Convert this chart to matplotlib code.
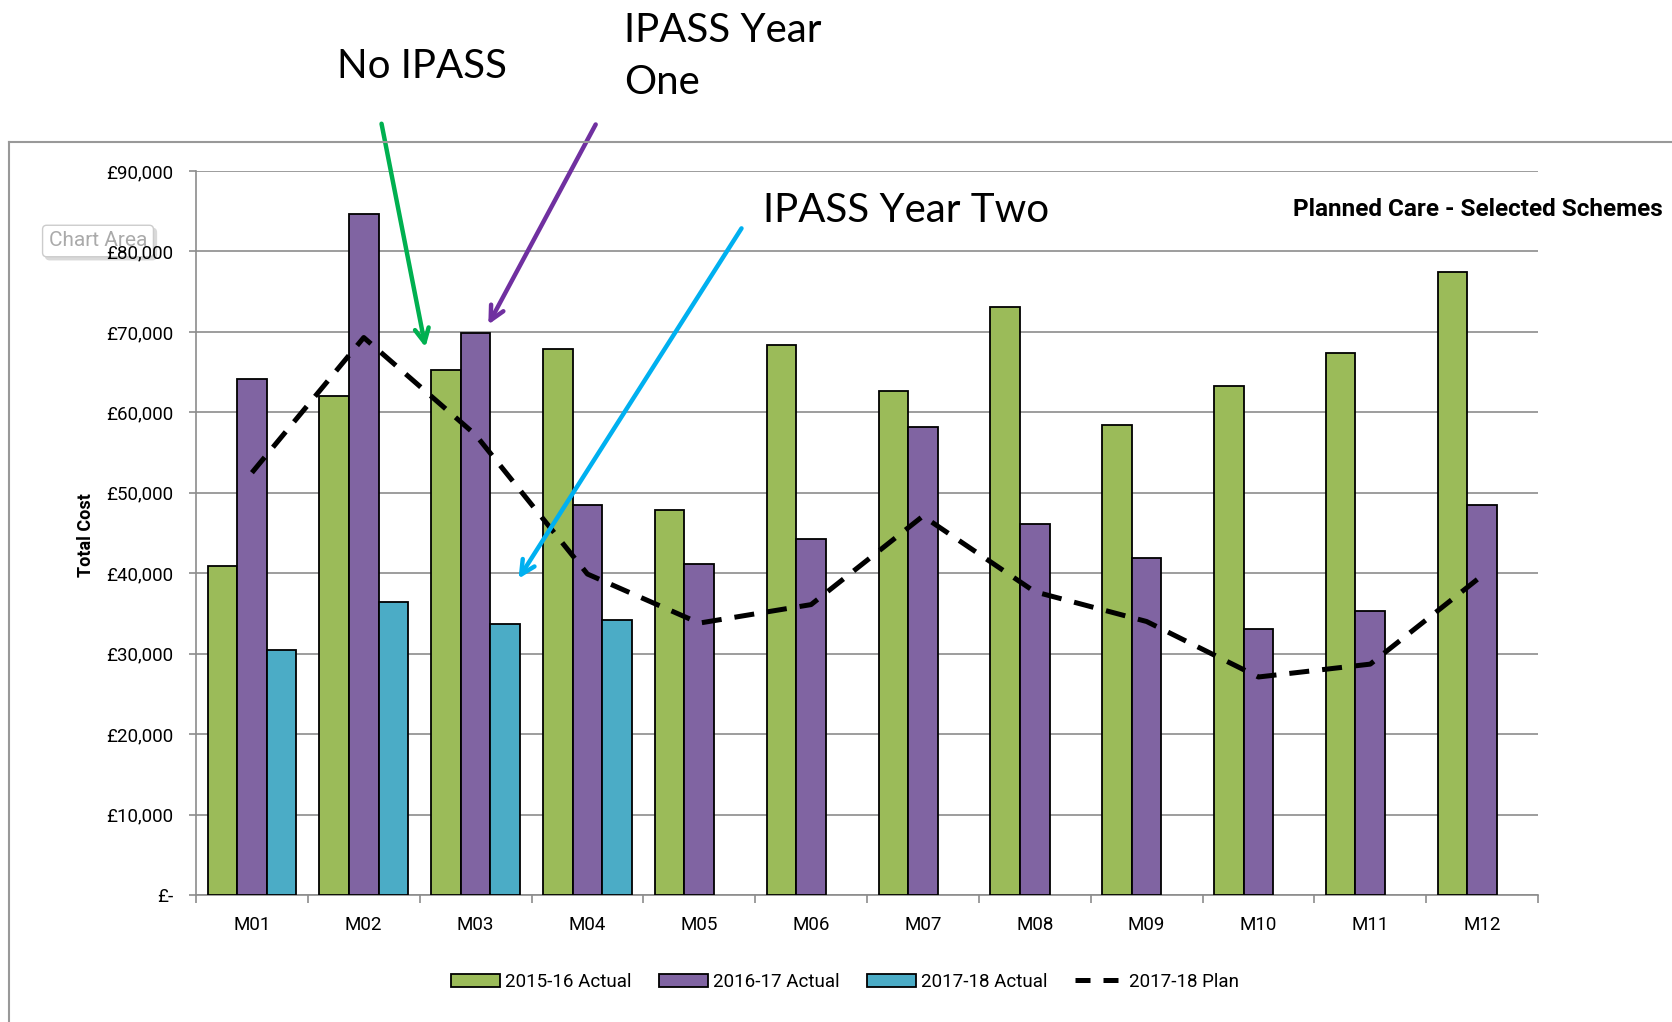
import matplotlib.pyplot as plt
import numpy as np
from matplotlib.lines import Line2D
from matplotlib.patches import Patch

# data
months = ["M01", "M02", "M03", "M04", "M05", "M06", "M07", "M08", "M09", "M10", "M11", "M12"]
actual_1516 = [40900, 62000, 65300, 67900, 47900, 68400, 62700, 73100, 58400, 63300, 67400, 77400]
actual_1617 = [64100, 84600, 69800, 48500, 41200, 44200, 58200, 46100, 41900, 33100, 35300, 48500]
actual_1718 = [30400, 36400, 33700, 34200, np.nan, np.nan, np.nan, np.nan, np.nan, np.nan, np.nan, np.nan]
plan_1718 = [52500, 69300, 57200, 39900, 33800, 36100, 47100, 37700, 34000, 27100, 28700, 39700]
yticks = [0, 10000, 20000, 30000, 40000, 50000, 60000, 70000, 80000, 90000]
ytick_labels = ["£-", "£10,000", "£20,000", "£30,000", "£40,000", "£50,000",
                "£60,000", "£70,000", "£80,000", "£90,000"]

W, H = 1672, 1022
narrow = ["Roboto", "DejaVu Sans"]
grey = "#8c8c8c"

fig = plt.figure(figsize=(W / 100, H / 100), dpi=100)
ax = fig.add_axes([196 / W, 1 - 895 / H, (1538 - 196) / W, (895 - 171) / H])

x = np.arange(len(months))
bw = 0.264
ax.bar(x - bw, actual_1516, bw, color="#9BBB59", edgecolor="black", linewidth=1.3, zorder=3, label="2015-16 Actual")
ax.bar(x, actual_1617, bw, color="#8064A2", edgecolor="black", linewidth=1.3, zorder=3, label="2016-17 Actual")
ax.bar(x + bw, actual_1718, bw, color="#4BACC6", edgecolor="black", linewidth=1.3, zorder=3, label="2017-18 Actual")
ax.plot(x, plan_1718, color="black", lw=3.6, dashes=(4.0, 2.6), zorder=4, label="2017-18 Plan")

ax.set_xlim(-0.5, 11.5)
ax.set_ylim(0, 90000)
ax.set_yticks(yticks)
ax.set_yticklabels(ytick_labels, family=narrow, fontsize=13.5)
ax.set_xticks(x)
ax.set_xticklabels(months, family=narrow, fontsize=13.5)
ax.set_xticks(np.arange(-0.5, 12, 1), minor=True)
ax.tick_params(axis="x", which="major", length=0, pad=15)
ax.tick_params(axis="x", which="minor", length=6, color=grey, width=1.2)
ax.tick_params(axis="y", length=5, color=grey, width=1.2, pad=11)
ax.grid(axis="y", color=grey, lw=1.2, zorder=0)
for s in ["top", "right"]:
    ax.spines[s].set_visible(False)
for s in ["left", "bottom"]:
    ax.spines[s].set_color(grey)
    ax.spines[s].set_linewidth(1.2)

# outer chart area border
fig.add_artist(Line2D([9 / W, 1.0], [1 - 142 / H, 1 - 142 / H], color="#999999", lw=1.5))
fig.add_artist(Line2D([9 / W, 9 / W], [0.0, 1 - 142 / H], color="#999999", lw=1.5))

fig.text(86 / W, 1 - 535 / H, "Total Cost", rotation=90, ha="center", va="center",
         family=narrow, fontsize=13, fontweight="bold")
fig.text(1663 / W, 1 - 209 / H, "Planned Care - Selected Schemes", ha="right", va="center",
         family=narrow, fontsize=17.5, fontweight="bold")
# "Chart Area" tooltip sits behind the tick labels, as in the screenshot
fig.text(101 / W, 1 - 244 / H, "Chart Area", ha="center", va="center", family=narrow,
         fontsize=15, color="#e0e0e0", zorder=-2,
         bbox=dict(boxstyle="round,pad=0.3,rounding_size=0.2", fc="#d9d9d9", ec="#d9d9d9", lw=1))
fig.text(98 / W, 1 - 241 / H, "Chart Area", ha="center", va="center", family=narrow,
         fontsize=15, color="#aaaaaa", zorder=-1,
         bbox=dict(boxstyle="round,pad=0.3,rounding_size=0.2", fc="white", ec="#cccccc", lw=1))

# annotations
ann_font = ["Lato", "DejaVu Sans"]
fig.text(337 / W, 1 - 66 / H, "No IPASS", family=ann_font, fontsize=29, va="center")
fig.text(624 / W, 1 - 57 / H, "IPASS Year\nOne", family=ann_font, fontsize=29,
         va="center", linespacing=1.5)
fig.text(763 / W, 1 - 210 / H, "IPASS Year Two", family=ann_font, fontsize=29, va="center")

arrows = [((381, 121), (426, 350), "#00B050"),
          ((597, 122), (487, 327), "#7030A0"),
          ((743, 226), (517, 581), "#00B0F0")]
for (x0, y0), (x1, y1), c in arrows:
    ax.annotate("", xy=(x1, H - y1), xycoords="figure pixels",
                xytext=(x0, H - y0), textcoords="figure pixels",
                arrowprops=dict(arrowstyle="->,head_length=1.0,head_width=0.5", color=c, lw=3.2),
                annotation_clip=False, zorder=6)

handles = [Patch(fc="#9BBB59", ec="black", lw=1.3, label="2015-16 Actual"),
           Patch(fc="#8064A2", ec="black", lw=1.3, label="2016-17 Actual"),
           Patch(fc="#4BACC6", ec="black", lw=1.3, label="2017-18 Actual"),
           Line2D([0], [0], color="black", lw=3.6, dashes=(3.0, 2.6), label="2017-18 Plan")]
fig.legend(handles=handles, loc="center", bbox_to_anchor=(845 / W, 1 - 982 / H), ncol=4,
           frameon=False, prop={"family": narrow, "size": 13.5}, handlelength=2.6,
           handleheight=0.75, handletextpad=0.25, columnspacing=1.5)

fig.savefig("out.png", dpi=100)
